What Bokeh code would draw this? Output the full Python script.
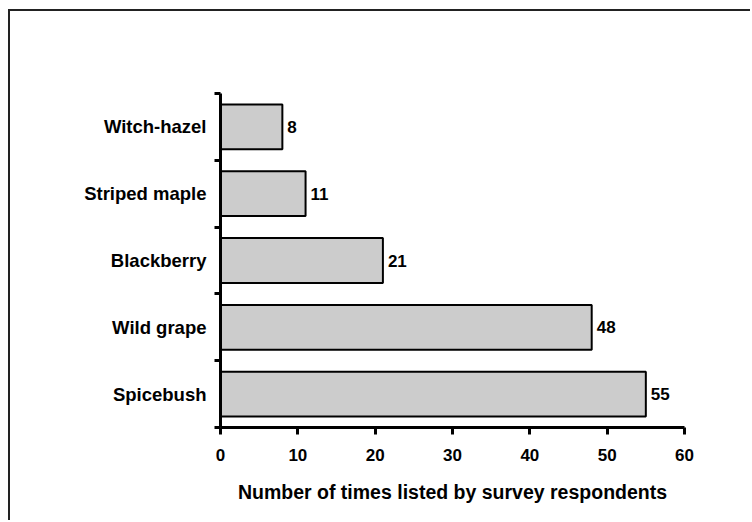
from bokeh.plotting import figure
from bokeh.models import Range1d, FixedTicker, ColumnDataSource
from bokeh.embed import file_html
from bokeh.resources import INLINE
from bokeh.core.properties import value

# Shrubs named by survey respondents, bottom to top
species = ["Spicebush", "Wild grape", "Blackberry", "Striped maple", "Witch-hazel"]
counts = [55, 48, 21, 11, 8]
x_ticks = [0, 10, 20, 30, 40, 50, 60]

FONT = "Liberation Sans"

# categories sit on integer rows; tick marks fall on the half-steps between them
rows = list(range(1, len(species) + 1))
edges = [r - 0.5 for r in rows] + [len(species) + 0.5]

src = ColumnDataSource(dict(
    row=rows,
    count=counts,
    label=[str(c) for c in counts],
))

p = figure(
    width=742, height=511,
    x_range=Range1d(0, 60),
    y_range=Range1d(0.5, len(species) + 0.5),
    output_backend="svg", toolbar_location=None,
    min_border_left=210, min_border_right=68,
    min_border_top=82, min_border_bottom=95,
    styles={
        "margin-left": "8px", "margin-top": "9px",
        "border-left": "2px solid #222222", "border-top": "2px solid #222222",
    },
)
p.background_fill_color = "white"
p.border_fill_color = "white"
p.outline_line_color = None
p.xgrid.visible = False
p.ygrid.visible = False

p.hbar(y="row", left=0, right="count", height=0.67, source=src,
       fill_color="#cccccc", line_color="black", line_width=2)

p.text(x="count", y="row", text="label", source=src,
       x_offset=5, text_align="left", text_baseline="middle",
       text_font=value(FONT), text_font_style="bold",
       text_font_size="17px", text_color="black")

# value axis
xa = p.xaxis[0]
xa.ticker = FixedTicker(ticks=x_ticks)
xa.axis_line_width = 3
xa.axis_line_color = "black"
xa.major_tick_out = 7
xa.major_tick_in = 0
xa.major_tick_line_width = 3
xa.major_tick_line_color = "black"
xa.minor_tick_line_color = None
xa.major_label_standoff = 14
xa.major_label_text_font = FONT
xa.major_label_text_font_style = "bold"
xa.major_label_text_font_size = "17px"
xa.major_label_text_color = "black"
xa.axis_label = "Number of times listed by survey respondents"
xa.axis_label_standoff = 17
xa.axis_label_text_font = FONT
xa.axis_label_text_font_style = "bold"
xa.axis_label_text_font_size = "19.5px"
xa.axis_label_text_color = "black"

# category axis: labels on rows, tick marks between rows
ya = p.yaxis[0]
ya.ticker = FixedTicker(ticks=rows, minor_ticks=edges)
ya.major_label_overrides = {r: s for r, s in zip(rows, species)}
ya.axis_line_width = 3
ya.axis_line_color = "black"
ya.major_tick_out = 0
ya.major_tick_in = 0
ya.major_tick_line_color = None
ya.minor_tick_out = 6
ya.minor_tick_in = 0
ya.minor_tick_line_width = 3
ya.minor_tick_line_color = "black"
ya.major_label_standoff = 8
ya.major_label_text_font = FONT
ya.major_label_text_font_style = "bold"
ya.major_label_text_font_size = "18.5px"
ya.major_label_text_color = "black"

open("out.html", "w").write(file_html(p, INLINE))
